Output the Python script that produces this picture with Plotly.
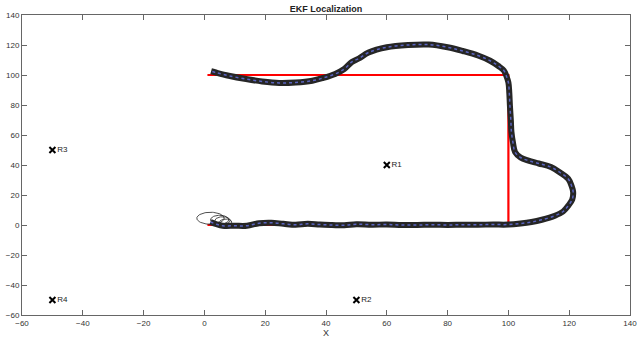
import numpy as np
import plotly.graph_objects as go

# True path (red)
true_x = [1, 100, 100, 1]
true_y = [0, 0, 100, 100]

# Estimated path
est_x = [2, 4, 6, 10, 14, 18, 22, 26, 30, 34, 38, 42, 46, 50, 55, 60, 65, 70, 75, 80, 85, 90, 95, 100,
         104, 107.6, 111, 115.3, 118, 119.7, 121, 121.3, 120.8, 119.7, 117, 114, 110, 106.6, 104, 102.2,
         101.5, 101, 100.8, 100.5, 100.3, 100, 99.3, 98.5, 96.7, 94, 90, 85, 80, 73.8, 67, 60, 54, 50.8,
         48.5, 46, 43, 39, 35.5, 30, 24.6, 19, 13.7, 8, 4, 2.2]
est_y = [2, 0.5, -0.5, -0.5, -0.5, 1.2, 1.5, 0.8, 0.2, 0.8, 0.3, 0.0, -0.2, 0.5, 0.2, 0.3, 0, 0, 0.2, 0, 0.2, 0.2, 0.3, 0.3,
         1, 2, 3.5, 6.2, 9, 12.9, 17, 22, 26, 30.7, 35, 38.6, 41, 42.9, 45, 48.6,
         55, 62, 70, 79.5, 88, 95, 99.5, 103, 106, 109.5, 113, 116, 118.5, 120.3, 120, 118.5, 115, 111,
         108.7, 104, 100.7, 98, 96.2, 95, 94.7, 95.7, 97.3, 99.5, 101.5, 102.5]

# Initial covariance ellipses
ell_cx = [2, 5, 6, 7]
ell_cy = [4.5, 3.5, 3, 2]
ell_rx = [4.5, 3, 2.5, 2]
ell_ry = [4, 3, 2.5, 2]

# Landmarks
lm_x = [60, 50, -50, -50]
lm_y = [40, -50, 50, -50]
lm_names = ["R1", "R2", "R3", "R4"]

fig = go.Figure()

fig.add_trace(go.Scatter(x=true_x, y=true_y, mode="lines",
                         line=dict(color="#ff0000", width=2.2), showlegend=False))

t = np.linspace(0, 2 * np.pi, 80)
for cx, cy, rx, ry in zip(ell_cx, ell_cy, ell_rx, ell_ry):
    fig.add_trace(go.Scatter(x=cx + rx * np.cos(t), y=cy + ry * np.sin(t), mode="lines",
                             line=dict(color="#222", width=0.8), showlegend=False))

fig.add_trace(go.Scatter(x=est_x, y=est_y, mode="lines",
                         line=dict(color="#262626", width=6, shape="spline"), showlegend=False))
fig.add_trace(go.Scatter(x=est_x, y=est_y, mode="lines",
                         line=dict(color="#5a64c0", width=1.5, dash="dot", shape="spline"), showlegend=False))

fig.add_trace(go.Scatter(x=lm_x, y=lm_y, mode="markers+text", text=lm_names,
                         textposition="middle right", textfont=dict(size=8, color="#222"),
                         marker=dict(symbol="x-thin", size=6, line=dict(color="black", width=2)),
                         showlegend=False))

axis_common = dict(range=[-60, 140], dtick=20, showgrid=False, zeroline=False,
                   showline=True, linecolor="#666", linewidth=1, mirror="ticks",
                   ticks="inside", ticklen=5, tickcolor="#666", automargin=False,
                   tickfont=dict(size=8, color="#333", family="Liberation Sans"))

fig.update_layout(
    width=638, height=341,
    margin=dict(l=22, r=8, t=15, b=26),
    paper_bgcolor="white", plot_bgcolor="white",
    font=dict(family="Liberation Sans", size=8, color="#222"),
    title=dict(text="<b>EKF Localization</b>", x=0.511, xanchor="center", y=0.975, yanchor="middle",
               font=dict(size=9, color="#222")),
    xaxis=dict(**axis_common, title=dict(text="X", standoff=2, font=dict(size=9, color="#333"))),
    yaxis=dict(**axis_common),
)

fig.write_html("out.html")
